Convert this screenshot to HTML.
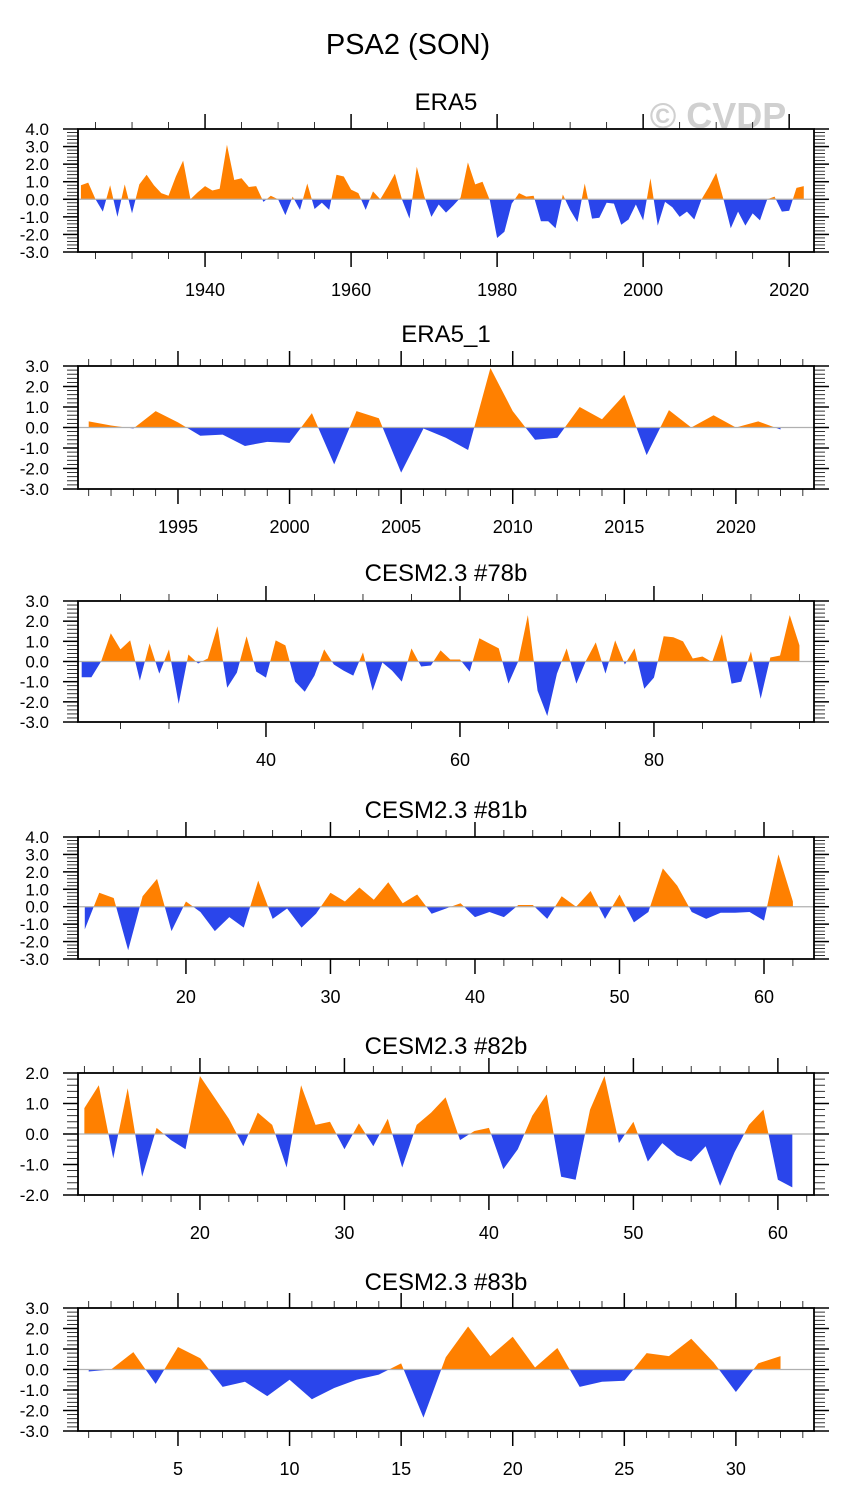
<!DOCTYPE html>
<html><head><meta charset="utf-8"><style>
body{margin:0;background:#fff;}
svg{display:block;font-family:"Liberation Sans",Arial,sans-serif;}
</style></head><body>
<svg id="chart" width="845" height="1506" viewBox="0 0 845 1506" xmlns="http://www.w3.org/2000/svg">
<text x="408" y="54" font-size="29" text-anchor="middle">PSA2 (SON)</text>
<text x="718" y="128" font-size="36" font-weight="bold" fill="#d0d0d0" text-anchor="middle">© CVDP</text>
</svg>
<script>
const era5Start = 1923;
const era5Values = [0.8,0.95,0,-0.7,0.8,-1.0,0.85,-0.8,0.85,1.4,0.8,0.35,0.2,1.3,2.2,0,0.4,0.75,0.5,0.6,3.1,1.1,1.2,0.7,0.75,-0.15,0.2,0,-0.9,0.15,-0.6,0.9,-0.55,-0.2,-0.6,1.4,1.3,0.55,0.35,-0.6,0.45,0,0.7,1.45,-0.05,-1.1,1.85,0.2,-1.0,-0.3,-0.76,-0.35,0.1,2.1,0.85,1.0,-0.05,-2.2,-1.85,-0.25,0.35,0.15,0.2,-1.25,-1.25,-1.65,0.27,-0.6,-1.3,0.9,-1.1,-1.05,-0.2,-0.25,-1.45,-1.15,-0.3,-1.2,1.2,-1.5,-0.15,-0.45,-1.0,-0.7,-1.15,0,0.7,1.5,0,-1.65,-0.7,-1.5,-0.8,-1.2,0,0.15,-0.7,-0.65,0.65,0.75];
const era51Start = 1991;
const era51Values = [0.3,0.1,-0.05,0.8,0.25,-0.4,-0.35,-0.9,-0.7,-0.75,0.7,-1.8,0.8,0.45,-2.2,-0.05,-0.5,-1.1,2.9,0.8,-0.6,-0.5,1.0,0.4,1.6,-1.35,0.85,0.0,0.6,0.0,0.3,-0.1];
const m78Start = 21;
const m78Values = [-0.78,-0.78,0,1.4,0.6,1.05,-0.95,0.9,-0.6,0.6,-2.1,0.35,-0.1,0.15,1.75,-1.3,-0.55,1.25,-0.5,-0.8,1.05,0.8,-1.0,-1.5,-0.7,0.6,-0.15,-0.45,-0.7,0.45,-1.45,-0.05,-0.45,-1.0,0.65,-0.25,-0.2,0.55,0.1,0.1,-0.5,1.15,0.9,0.65,-1.1,0.0,2.3,-1.45,-2.7,-0.6,0.65,-1.1,0.05,0.95,-0.6,1.05,-0.15,0.65,-1.35,-0.8,1.25,1.2,1.0,0.15,0.25,-0.03,1.35,-1.1,-1.0,0.5,-1.85,0.2,0.3,2.3,0.8];
const m81Start = 13;
const m81Values = [-1.3,0.8,0.5,-2.5,0.6,1.6,-1.4,0.3,-0.3,-1.4,-0.6,-1.2,1.5,-0.7,-0.1,-1.2,-0.4,0.8,0.3,1.1,0.4,1.4,0.2,0.7,-0.4,-0.1,0.2,-0.6,-0.3,-0.6,0.1,0.1,-0.7,0.6,0.0,0.9,-0.7,0.7,-0.9,-0.3,2.2,1.2,-0.3,-0.7,-0.35,-0.35,-0.3,-0.8,3.0,0.3];
const m82Start = 12;
const m82Values = [0.85,1.6,-0.8,1.5,-1.4,0.2,-0.2,-0.5,1.9,1.2,0.5,-0.4,0.7,0.3,-1.1,1.6,0.3,0.4,-0.5,0.35,-0.4,0.5,-1.1,0.3,0.7,1.2,-0.2,0.1,0.2,-1.15,-0.5,0.6,1.3,-1.4,-1.5,0.8,1.9,-0.3,0.4,-0.9,-0.3,-0.7,-0.9,-0.4,-1.7,-0.6,0.3,0.8,-1.5,-1.75];
const m83Start = 1;
const m83Values = [-0.1,0.0,0.85,-0.7,1.1,0.55,-0.85,-0.6,-1.3,-0.5,-1.45,-0.9,-0.5,-0.25,0.3,-2.35,0.6,2.1,0.65,1.6,0.1,1.05,-0.85,-0.6,-0.55,0.8,0.65,1.5,0.35,-1.1,0.3,0.65];
const yTicks1 = ["4.0","3.0","2.0","1.0","0.0","-1.0","-2.0","-3.0"];
const yTicks3 = ["3.0","2.0","1.0","0.0","-1.0","-2.0","-3.0"];
const yTicks5 = ["2.0","1.0","0.0","-1.0","-2.0"];
const xTicks1 = [1940,1960,1980,2000,2020];
const xTicks2 = [1995,2000,2005,2010,2015,2020];
const xTicks3 = [40,60,80];
const xTicks4 = [20,30,40,50,60];
const xTicks5 = [20,30,40,50,60];
const xTicks6 = [5,10,15,20,25,30];

const NS="http://www.w3.org/2000/svg";
const svg=document.getElementById('chart');
function mk(tag,attrs,parent){const e=document.createElementNS(NS,tag);for(const k in attrs)e.setAttribute(k,attrs[k]);(parent||svg).appendChild(e);return e;}

const panels=[
 {title:"ERA5",name:"era5",start:era5Start,vals:era5Values,yt:yTicks1,ymax:4,ymin:-3,xt:xTicks1,xmin:1922.6,xmax:2023.4,minor:5,top:129,bot:252,ty:110},
 {title:"ERA5_1",name:"era5-1",start:era51Start,vals:era51Values,yt:yTicks3,ymax:3,ymin:-3,xt:xTicks2,xmin:1990.52,xmax:2023.5,minor:1,top:366,bot:489,ty:342},
 {title:"CESM2.3 #78b",name:"cesm-78b",start:m78Start,vals:m78Values,yt:yTicks3,ymax:3,ymin:-3,xt:xTicks3,xmin:20.62,xmax:96.5,minor:5,top:601,bot:722,ty:581},
 {title:"CESM2.3 #81b",name:"cesm-81b",start:m81Start,vals:m81Values,yt:yTicks1,ymax:4,ymin:-3,xt:xTicks4,xmin:12.53,xmax:63.46,minor:2,top:837,bot:959,ty:818},
 {title:"CESM2.3 #82b",name:"cesm-82b",start:m82Start,vals:m82Values,yt:yTicks5,ymax:2,ymin:-2,xt:xTicks5,xmin:11.56,xmax:62.5,minor:2,top:1073,bot:1195,ty:1054},
 {title:"CESM2.3 #83b",name:"cesm-83b",start:m83Start,vals:m83Values,yt:yTicks3,ymax:3,ymin:-3,xt:xTicks6,xmin:0.52,xmax:33.5,minor:1,top:1308,bot:1431,ty:1290}
];
const L=78,R=814;
panels.forEach((p,pi)=>{
 const g=mk('g',{});
 
 
 const xs=v=>L+(v-p.xmin)/(p.xmax-p.xmin)*(R-L);
 const ys=v=>p.top+(p.ymax-v)/(p.ymax-p.ymin)*(p.bot-p.top);
 const t=mk('text',{x:446,y:p.ty,'font-size':24,'text-anchor':'middle'},g);
 t.textContent=p.title;
 
 
 const y0=ys(0);
 let d='M'+xs(p.start)+','+y0;
 p.vals.forEach((v,i)=>{d+=' L'+xs(p.start+i).toFixed(2)+','+ys(v).toFixed(2);});
 d+=' L'+xs(p.start+p.vals.length-1)+','+y0+' Z';
 const cu=mk('clipPath',{id:'cu'+pi},g);mk('rect',{x:0,y:0,width:845,height:y0},cu);
 const cd=mk('clipPath',{id:'cd'+pi},g);mk('rect',{x:0,y:y0,width:845,height:600},cd);
 const pos=mk('path',{d:d,fill:'#ff8000','clip-path':'url(#cu'+pi+')'},g);
 
 
 const neg=mk('path',{d:d,fill:'#2a45eb','clip-path':'url(#cd'+pi+')'},g);
 
 
 const zl=mk('line',{x1:L,x2:R,y1:y0,y2:y0,stroke:'#b0b0b0','stroke-width':1.2},g);
 
 
 const box=mk('rect',{x:L,y:p.top,width:R-L,height:p.bot-p.top,fill:'none',stroke:'#000','stroke-width':1.8},g);
 
 
 for(let v=p.ymin;v<=p.ymax+1e-6;v=Math.round((v+0.2)*10)/10){
  const y=ys(v);const maj=Math.abs(v-Math.round(v))<1e-6;
  const len=maj?15:11;
  mk('line',{x1:L-len,x2:L,y1:y,y2:y,stroke:'#000','stroke-width':maj?1.5:0.8},g);
  mk('line',{x1:R,x2:R+len,y1:y,y2:y,stroke:'#000','stroke-width':maj?1.5:0.8},g);
 }
 p.yt.forEach(s=>{
  const lab=mk('text',{x:49,y:ys(parseFloat(s))+6,'font-size':17,'text-anchor':'end'},g);
  lab.textContent=s;
  
  
 });
 const a=Math.ceil(p.xmin/p.minor)*p.minor;
 for(let v=a;v<=p.xmax;v+=p.minor){
  const x=xs(v);const maj=p.xt.indexOf(v)>=0;const len=maj?15:7;
  mk('line',{x1:x,x2:x,y1:p.bot,y2:p.bot+len,stroke:'#000','stroke-width':maj?1.5:0.8},g);
  mk('line',{x1:x,x2:x,y1:p.top-len,y2:p.top,stroke:'#000','stroke-width':maj?1.5:0.8},g);
 }
 p.xt.forEach(v=>{
  const lab=mk('text',{x:xs(v),y:p.bot+44,'font-size':18,'text-anchor':'middle'},g);
  lab.textContent=String(v);
  
  
 });
});
</script>
</body></html>
